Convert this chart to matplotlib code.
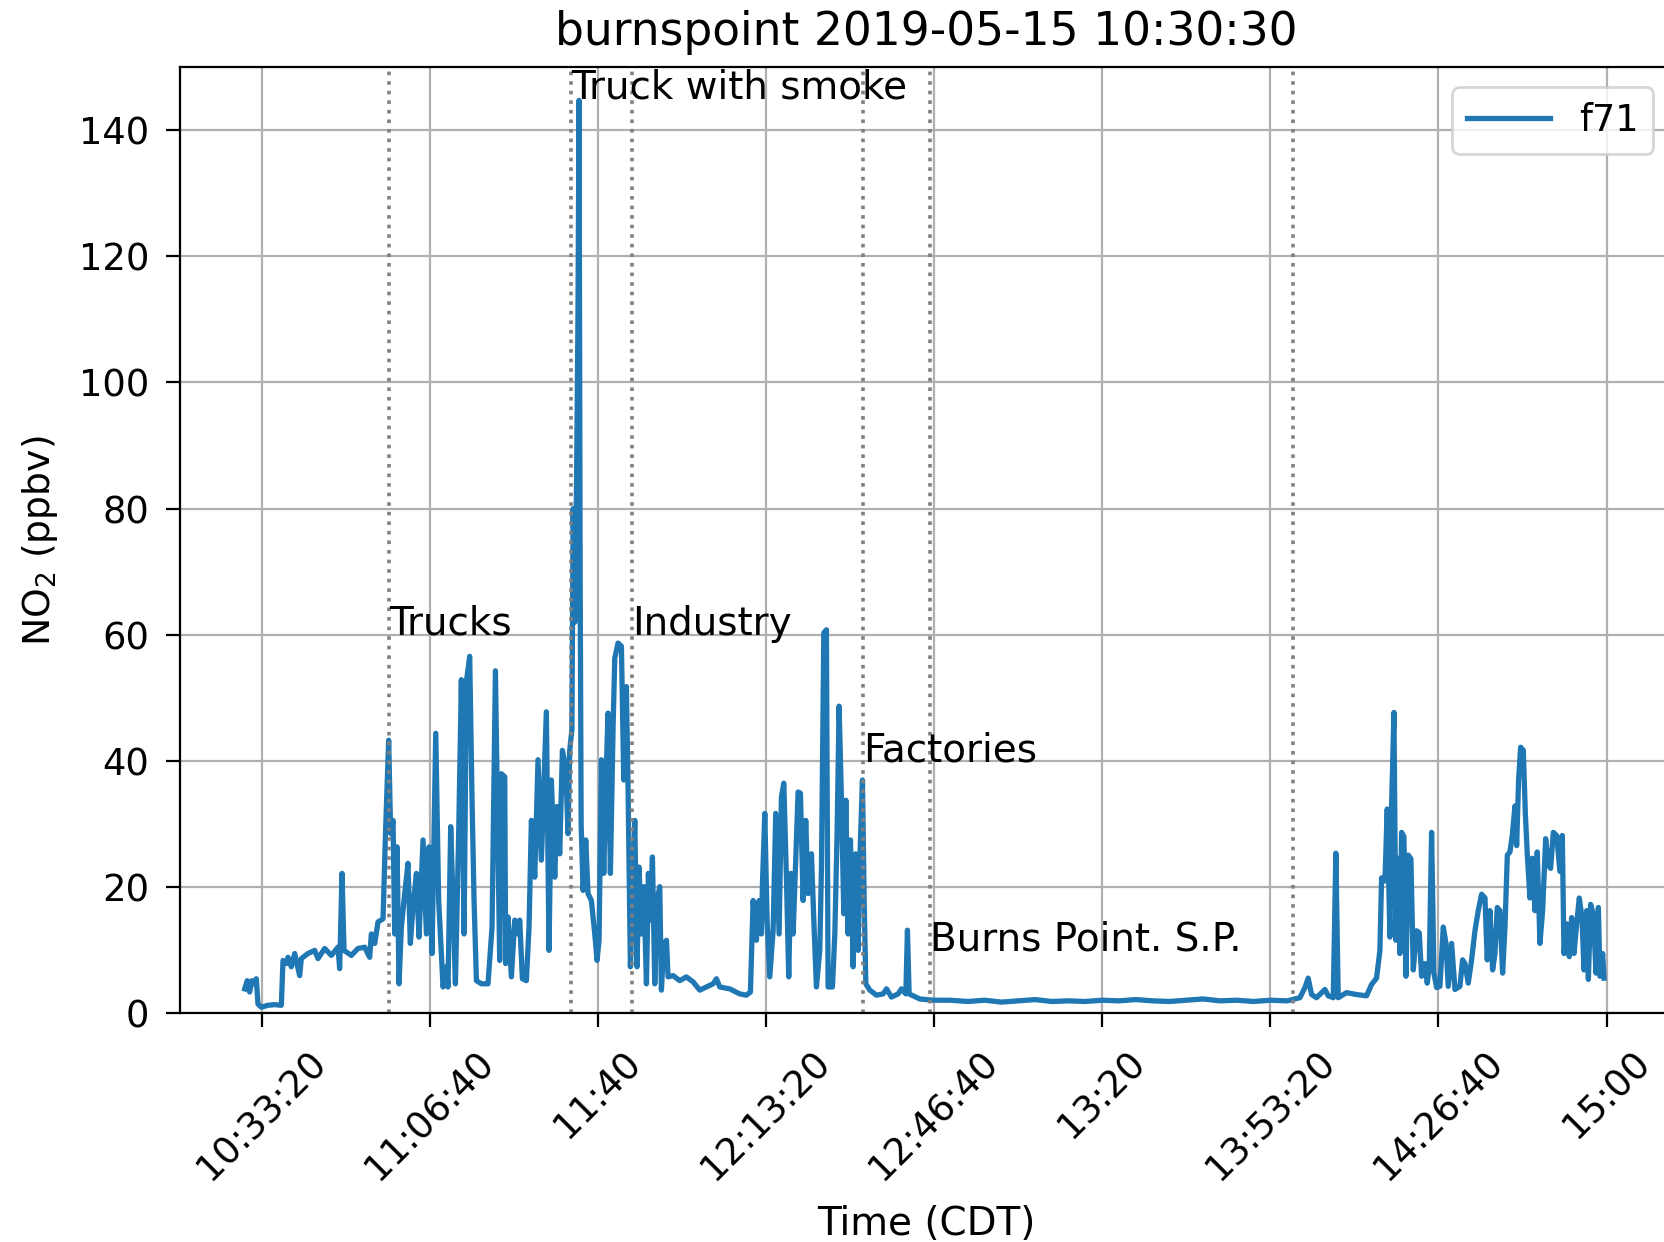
import matplotlib
matplotlib.use('Agg')
import matplotlib.pyplot as plt
from matplotlib.ticker import MultipleLocator, FuncFormatter


# time in seconds since midnight (CDT), NO2 in ppbv
TIME_S = [
    37797, 37828, 37856, 37884, 37916, 37935, 37955, 37995, 38074, 38154,
    38233, 38253, 38292, 38312, 38352, 38392, 38451, 38471, 38550, 38630,
    38669, 38749, 38828, 38907, 38927, 38955, 38979, 39066, 39145, 39225,
    39284, 39304, 39344, 39383, 39443, 39471, 39510, 39534, 39562, 39582,
    39610, 39633, 39661, 39701, 39740, 39768, 39800, 39840, 39871, 39919,
    39959, 39990, 40026, 40070, 40105, 40157, 40197, 40216, 40248, 40276,
    40304, 40343, 40375, 40407, 40435, 40474, 40502, 40526, 40554, 40613,
    40692, 40740, 40780, 40831, 40851, 40891, 40902, 40930, 40970, 41010,
    41049, 41069, 41101, 41148, 41180, 41208, 41248, 41287, 41327, 41386,
    41418, 41446, 41486, 41513, 41545, 41577, 41616, 41644, 41664, 41690,
    41705, 41725, 41745, 41762, 41775, 41788, 41800, 41823, 41855, 41882,
    41922, 41962, 41989, 42013, 42041, 42069, 42100, 42120, 42148, 42180,
    42200, 42239, 42279, 42307, 42338, 42358, 42386, 42410, 42438, 42465,
    42489, 42517, 42545, 42577, 42600, 42624, 42648, 42676, 42703, 42735,
    42755, 42783, 42815, 42834, 42894, 42973, 43052, 43132, 43211, 43291,
    43370, 43410, 43449, 43568, 43687, 43766, 43814, 43846, 43885, 43917,
    43945, 43957, 43985, 44012, 44044, 44084, 44115, 44155, 44183, 44211,
    44242, 44270, 44294, 44322, 44353, 44381, 44409, 44441, 44472, 44500,
    44540, 44568, 44599, 44639, 44659, 44687, 44718, 44738, 44790, 44818,
    44845, 44869, 44897, 44925, 44949, 44976, 45004, 45036, 45064, 45095,
    45115, 45147, 45167, 45187, 45234, 45313, 45393, 45433, 45492, 45571,
    45611, 45663, 45682, 45702, 45829, 45988, 46186, 46400, 46600, 46800,
    47000, 47200, 47400, 47600, 47800, 48000, 48200, 48400, 48600, 48800,
    49000, 49200, 49400, 49600, 49800, 50000, 50200, 50351, 50411, 50450,
    50490, 50549, 50649, 50688, 50748, 50779, 50807, 50906, 51025, 51144,
    51204, 51263, 51303, 51323, 51363, 51390, 51422, 51442, 51470, 51493,
    51513, 51541, 51561, 51589, 51613, 51640, 51672, 51700, 51739, 51771,
    51799, 51839, 51866, 51890, 51918, 51946, 51978, 52017, 52057, 52089,
    52116, 52156, 52196, 52255, 52287, 52315, 52354, 52394, 52434, 52473,
    52513, 52553, 52580, 52612, 52644, 52672, 52699, 52731, 52763, 52791,
    52819, 52850, 52878, 52910, 52930, 52953, 52977, 53009, 53033, 53057,
    53088, 53116, 53148, 53175, 53207, 53239, 53275, 53306, 53334, 53366,
    53406, 53445, 53473, 53493, 53525, 53556, 53584, 53612, 53644, 53675,
    53707, 53731, 53763, 53783, 53810, 53842, 53874, 53902, 53921, 53953,
    53969,
]

NO2 = [
    3.9, 5.2, 3.4, 5.2, 4.7, 5.5, 1.5, 1.0, 1.3, 1.4,
    1.3, 8.4, 7.9, 8.9, 7.4, 9.5, 6.0, 8.7, 9.5, 10.0,
    8.7, 10.3, 9.2, 10.5, 7.1, 22.2, 10.0, 9.2, 10.3, 10.5,
    8.9, 12.6, 11.1, 14.5, 15.0, 28.0, 43.3, 28.5, 30.6, 12.6,
    26.4, 4.7, 13.7, 19.0, 23.8, 11.1, 16.9, 22.2, 12.1, 27.5,
    12.6, 26.4, 9.5, 44.4, 17.9, 4.2, 7.4, 4.2, 29.6, 17.9,
    4.7, 28.5, 52.9, 12.6, 52.6, 56.6, 33.8, 17.9, 5.2, 4.7,
    4.7, 13.7, 54.3, 8.4, 38.0, 37.5, 7.9, 15.3, 5.8, 14.8,
    12.6, 14.8, 5.5, 5.2, 13.7, 30.6, 21.6, 40.2, 24.3, 47.8,
    10.0, 37.0, 21.6, 32.8, 25.3, 41.7, 39.1, 28.5, 41.7, 45.0,
    80.0, 62.0, 84.0, 110.0, 144.7, 70.0, 30.0, 19.5, 27.5, 19.0,
    17.9, 12.6, 8.4, 11.6, 40.2, 22.2, 39.1, 47.6, 22.2, 45.4,
    56.3, 58.7, 58.2, 37.0, 51.8, 35.9, 7.4, 16.9, 30.6, 7.4,
    23.2, 12.6, 20.1, 4.7, 22.2, 14.8, 24.8, 4.7, 17.9, 20.1,
    3.7, 11.1, 11.6, 5.8, 6.0, 5.2, 5.8, 5.0, 3.7, 4.2,
    4.7, 5.5, 4.2, 3.9, 3.1, 2.9, 3.4, 17.9, 11.6, 17.9,
    12.6, 20.6, 31.7, 14.8, 5.8, 13.2, 31.7, 12.6, 34.3, 36.5,
    21.6, 5.8, 22.2, 12.6, 24.3, 35.1, 34.9, 17.9, 30.6, 19.0,
    25.3, 14.8, 4.2, 10.0, 23.2, 60.3, 60.8, 4.2, 4.2, 12.6,
    28.5, 48.7, 33.8, 15.8, 33.8, 12.6, 27.5, 7.4, 25.3, 10.0,
    24.3, 37.0, 17.9, 4.7, 3.7, 2.9, 3.1, 3.9, 2.6, 3.1,
    3.9, 3.1, 13.2, 3.1, 2.3, 2.1, 2.1, 1.9, 2.1, 1.8,
    2.0, 2.2, 1.9, 2.0, 1.9, 2.1, 2.0, 2.2, 2.0, 1.9,
    2.1, 2.3, 2.0, 2.1, 1.9, 2.1, 2.0, 2.5, 4.1, 5.6,
    3.0, 2.5, 3.8, 2.8, 2.5, 25.4, 2.5, 3.3, 3.0, 2.8,
    4.6, 5.6, 10.0, 21.5, 21.0, 32.4, 12.1, 32.9, 47.7, 11.6,
    24.6, 9.5, 28.7, 28.0, 5.9, 25.1, 24.5, 6.9, 13.1, 12.8,
    5.9, 7.9, 4.8, 7.4, 28.7, 6.4, 4.1, 4.3, 13.7, 11.1,
    4.3, 11.1, 3.8, 4.3, 8.5, 7.9, 4.8, 8.5, 13.1, 16.3,
    18.9, 18.3, 8.5, 16.3, 6.9, 9.5, 16.8, 16.3, 6.4, 13.7,
    25.1, 25.6, 28.2, 32.9, 26.6, 37.0, 42.2, 41.7, 31.8, 25.1,
    18.3, 24.6, 16.3, 25.6, 11.1, 16.3, 27.7, 23.5, 23.0, 28.7,
    28.2, 22.5, 28.2, 9.5, 14.2, 9.0, 15.2, 9.5, 14.2, 18.3,
    15.2, 6.9, 16.3, 5.4, 17.3, 15.7, 6.4, 16.8, 5.9, 9.5,
    5.6,
]

# source events marked on the drive
EVENT_TIMES = [39510, 41684, 42406, 45155, 45952, 50264]
EVENT_LABELS = ['Trucks', 'Truck with smoke', 'Industry', 'Factories',
                'Burns Point. S.P.', '']
EVENT_LABEL_Y = [60, 145, 60, 40, 10, 0]


def hms(x, pos):
    # seconds since midnight -> H:MM:SS, seconds dropped when zero
    x = int(round(x))
    h, rem = divmod(x, 3600)
    m, s = divmod(rem, 60)
    if s == 0:
        return '%d:%02d' % (h, m)
    return '%d:%02d:%02d' % (h, m, s)


fig = plt.figure(figsize=(8.32, 6.21), dpi=200)
ax = fig.add_axes([0.1082, 0.184, 0.8966, 0.7621])

ax.plot(TIME_S, NO2, label='f71', linewidth=1.9)

for t, lab, y in zip(EVENT_TIMES, EVENT_LABELS, EVENT_LABEL_Y):
    ax.axvline(t, color='grey', linestyle=':', linewidth=1.3)
    if lab:
        ax.text(t, y, lab, fontsize=14)

ax.set_xlim(37028, 54778)
ax.set_ylim(0, 150)
ax.xaxis.set_major_locator(MultipleLocator(2000))
ax.xaxis.set_major_formatter(FuncFormatter(hms))
ax.tick_params(labelsize=13.3, length=5, pad=6)
plt.setp(ax.get_xticklabels(), rotation=45)

ax.grid(True)
ax.legend(loc='upper right', fontsize=13.2, handlelength=2.25,
          bbox_to_anchor=(0.9934, 0.9297), bbox_transform=fig.transFigure,
          borderaxespad=0)

ax.set_title('burnspoint 2019-05-15 10:30:30', fontsize=16.4, pad=8)
ax.set_xlabel('Time (CDT)', fontsize=14, labelpad=6.3)
ax.set_ylabel(r'NO$_2$ (ppbv)', fontsize=13.6, labelpad=6.8)

fig.savefig('out.png', dpi=200)
